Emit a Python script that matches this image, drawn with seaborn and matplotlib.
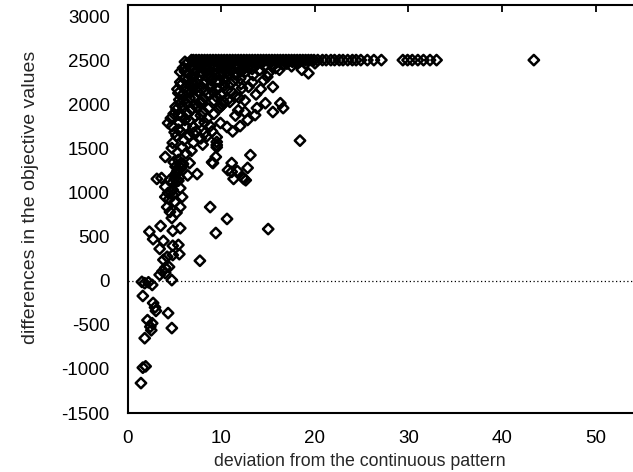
import matplotlib
matplotlib.use("Agg")
import matplotlib.pyplot as plt
import seaborn as sns
import pandas as pd

# ---- data ----
x_low = [1.4, 1.6, 1.9, 1.8, 2.1, 2.4, 2.6, 2.5, 4.7, 4.3, 1.6, 2.7, 2.9, 3.0, 1.5, 1.8, 2.6, 2.2,
         3.4, 4.0, 4.7, 3.7, 4.0, 4.4, 3.8, 4.2, 4.8, 5.5, 4.8, 5.4, 3.4, 3.8, 7.7, 2.3, 2.7, 3.5,
         4.8, 5.6, 9.4, 15.0, 8.8, 10.6, 4.2, 4.5, 4.7, 5.6, 5.2, 4.0, 4.8, 5.8, 4.0, 4.8, 5.6,
         3.1, 3.6, 4.5, 4.3, 4.6, 5.0, 4.4]
y_low = [-1160, -985, -970, -650, -445, -520, -480, -560, -535, -365, -170, -250, -300, -340, -10, -25, -45, -15,
         70, 90, 10, 110, 150, 160, 240, 275, 295, 305, 400, 410, 365, 455, 230, 560, 475, 625,
         570, 600, 545, 590, 840, 705, 840, 785, 715, 840, 775, 955, 980, 955, 1070, 1035, 1055,
         1160, 1170, 1150, 1000, 1010, 900, 930]

x_mid = [4.8, 5.0, 5.3, 5.1, 5.5, 5.7, 4.9, 5.4, 5.9, 6.4, 7.4, 6.6, 4.0, 4.7, 4.8, 7.0, 6.2, 6.8,
         5.3, 5.8, 6.0, 6.5, 5.6, 5.2, 7.3, 7.8, 8.2, 8.0, 9.5, 9.0, 10.7, 9.5, 9.5, 9.4, 9.1, 13.1,
         11.1, 11.1, 11.7, 12.8, 11.3, 12.4, 12.6, 12.3, 18.4, 5.2, 5.6, 5.0, 5.4]
y_mid = [1120, 1200, 1250, 1300, 1180, 1280, 1350, 1375, 1330, 1200, 1215, 1340, 1410, 1510, 1570, 1570, 1450, 1480,
         1460, 1520, 1600, 1650, 1700, 1650, 1700, 1620, 1680, 1550, 1545, 1350, 1260, 1580, 1520, 1410, 1340, 1430,
         1340, 1240, 1250, 1285, 1160, 1160, 1145, 1175, 1595, 1230, 1330, 1160, 1140]

x_upper = [9.5, 9.9, 10.6, 13.8, 13.6, 14.7, 15.5, 16.3, 16.6, 12.8, 11.8, 10.9, 9.9, 10.1, 9.7, 10.2,
           4.3, 4.6, 4.9, 5.2, 4.7, 5.5, 5.8, 6.1, 5.4, 6.4, 6.8, 7.2, 7.6, 8.1, 8.5, 8.8, 9.2, 7.0,
           11.5, 12.0, 12.5, 11.2, 8.4, 7.7, 5.6, 6.0, 6.6, 7.1,
           10.6, 12.2, 12.9, 13.3, 14.5, 14.9, 15.5, 8.6, 5.4, 5.6, 6.2, 6.8, 7.3, 7.9, 8.3, 9.0, 9.4,
           9.8, 10.3, 11.0, 11.5, 12.0, 6.0, 6.5, 7.0, 7.5, 8.0, 9.2, 11.9, 12.5, 13.7, 14.2]
y_upper = [1635, 1795, 1750, 1965, 1885, 2020, 1920, 2020, 1965, 1830, 1940, 2035, 1980, 2000, 1960, 2040,
           1795, 1850, 1900, 1950, 1760, 1800, 1880, 1830, 1720, 1900, 1950, 1870, 1800, 1920, 1850, 1760, 1900, 1750,
           1880, 1760, 1920, 1700, 1640, 2020, 2020, 2050, 2080, 2000,
           2170, 2190, 2205, 2260, 2280, 2320, 2205, 2135, 2135, 2260, 2200, 2150, 2250, 2180, 2280, 2220, 2100,
           2260, 2300, 2240, 2100, 2300, 2300, 2350, 2320, 2150, 2060, 2050, 2080, 2050, 2120, 2180]

x_dense = [5.1, 5.5, 5.9, 6.3, 6.7, 7.1, 7.5, 7.9, 8.3, 8.7, 9.1, 9.5, 9.9, 10.3, 10.7, 11.1,
           5.3, 5.7, 6.1, 6.5, 6.9, 7.3, 7.7, 8.1, 8.5, 8.9, 9.3, 9.7, 10.1, 10.5, 10.9, 11.3, 11.7, 12.1,
           6.0, 6.4, 6.8, 7.2, 7.6, 8.0, 8.4, 8.8, 9.2, 9.6, 10.0, 10.4, 10.8, 11.2, 11.6, 12.0, 12.4, 12.8,
           5.0, 5.4, 5.8, 6.2, 6.6, 7.0, 7.4, 7.8, 8.2, 8.6, 9.0]
y_dense = [1980, 2060, 2120, 2010, 2210, 2090, 2290, 2030, 2170, 2330, 2150, 2270, 2120, 2220, 2060, 2150,
           2180, 2230, 2380, 2300, 2260, 2390, 2330, 2240, 2390, 2280, 2350, 2420, 2370, 2320, 2400, 2280, 2350, 2240,
           2420, 2150, 2450, 2180, 2440, 2360, 2460, 2200, 2440, 2180, 2460, 2260, 2450, 2400, 2470, 2380, 2440, 2430,
           1690, 1890, 1990, 1760, 1820, 1680, 1980, 1880, 1800, 1960, 1700]

x_near_cap = [14.1, 15.0, 16.6, 18.6, 19.3, 20.0, 5.6, 6.1, 6.6, 7.0, 7.4, 7.8, 8.2, 8.6, 9.0, 9.4, 9.8,
              10.2, 10.6, 11.0, 11.4, 11.8, 12.2, 12.6, 13.0, 13.4, 13.8, 14.6, 15.4, 15.8, 16.2, 17.0,
              17.5, 18.0, 19.0, 6.3, 5.9, 7.2, 8.0, 8.8, 9.6, 10.4, 11.2, 12.0, 12.8, 13.6, 14.4, 15.2,
              16.0, 16.8, 17.6, 18.4, 6.9, 7.7, 8.5, 9.3, 10.1, 10.9, 11.7, 12.5, 13.3]
y_near_cap = [2400, 2360, 2455, 2400, 2360, 2475, 2375, 2490, 2430, 2400, 2460, 2380, 2430, 2350, 2470, 2400, 2340,
              2440, 2380, 2460, 2350, 2420, 2470, 2380, 2440, 2340, 2460, 2440, 2460, 2420, 2400, 2470,
              2440, 2480, 2470, 2470, 2420, 2490, 2480, 2495, 2480, 2490, 2475, 2495, 2480, 2490, 2485, 2495,
              2490, 2495, 2490, 2495, 2440, 2430, 2460, 2440, 2420, 2410, 2440, 2420, 2410]

x_cap = [6.8, 7.0, 7.3, 7.6, 7.9, 8.2, 8.5, 8.8, 9.1, 9.4, 9.7, 10.0, 10.3, 10.6, 10.9, 11.2, 11.5, 11.8,
         12.1, 12.4, 12.7, 13.0, 13.3, 13.6, 13.9, 14.2, 14.5, 14.8, 15.1, 15.4, 15.7, 16.0, 16.3, 16.6,
         16.9, 17.2, 17.5, 17.8, 18.1, 18.4, 18.7, 19.0, 19.3, 19.6, 19.9, 20.3, 20.8, 21.2, 21.7, 22.1,
         22.6, 23.0, 23.5, 24.0, 24.4, 24.9, 25.6, 26.3, 27.1, 29.4, 29.9, 30.4, 31.0, 31.6, 32.3, 33.0, 43.4]
y_cap = [2510] * len(x_cap)

xs = x_low + x_mid + x_upper + x_dense + x_near_cap + x_cap
ys = y_low + y_mid + y_upper + y_dense + y_near_cap + y_cap
df = pd.DataFrame({"deviation": xs, "difference": ys})

x_ticks = [0, 10, 20, 30, 40, 50]
y_ticks = [-1500, -1000, -500, 0, 500, 1000, 1500, 2000, 2500, 3000]

sns.set_style("white")
plt.rcParams['font.family'] = ['Liberation Sans', 'DejaVu Sans']
plt.rcParams['axes.unicode_minus'] = False

fig = plt.figure(figsize=(6.33, 4.72), dpi=100)
ax = fig.add_axes([0.202, 0.125, 0.798, 0.8644])

ax.axhline(0, color="black", lw=0.9, ls=(0, (1, 2)), zorder=1)
sns.scatterplot(data=df, x="deviation", y="difference", ax=ax, marker="D", s=28,
                facecolor="none", edgecolor="black", linewidth=1.8, zorder=3, legend=False)

ax.set_xlim(0, 54.0)
ax.set_ylim(-1500, 3136)
ax.set_xticks(x_ticks)
ax.set_yticks(y_ticks)
ax.tick_params(direction="in", length=5, width=1.3, top=True, right=False,
               labelsize=13.5, colors="black")
ax.tick_params(axis="y", pad=13)
ax.tick_params(axis="x", pad=12)
for side in ["left", "bottom", "top"]:
    ax.spines[side].set_linewidth(1.5)
    ax.spines[side].set_color("black")
ax.spines["right"].set_visible(False)

ax.set_xlabel("deviation from the continuous pattern", fontsize=12.8, labelpad=0)
ax.set_ylabel("differences in the objective values", fontsize=14)
ax.xaxis.set_label_coords(0.459, -0.098)
ax.yaxis.set_label_coords(-0.175, 0.529)

fig.savefig("out.png", dpi=100)
